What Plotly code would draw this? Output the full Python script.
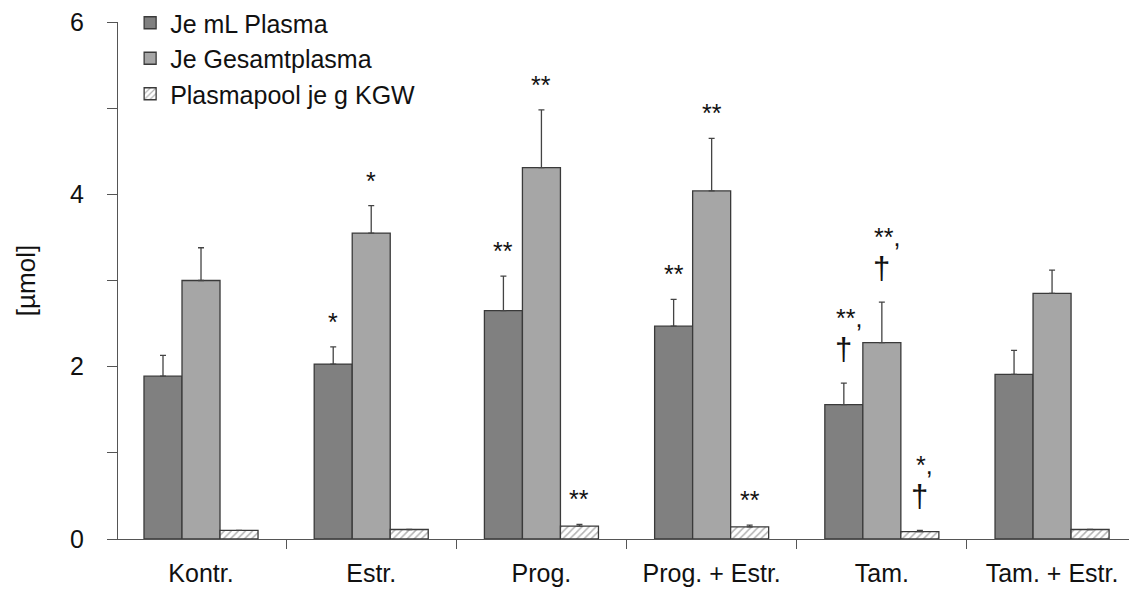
import plotly.graph_objects as go

categories = ["Kontr.", "Estr.", "Prog.", "Prog. + Estr.", "Tam.", "Tam. + Estr."]
series_names = ["Je mL Plasma", "Je Gesamtplasma", "Plasmapool je g KGW"]

per_ml = [1.89, 2.03, 2.65, 2.47, 1.56, 1.91]
per_ml_err = [0.24, 0.20, 0.40, 0.31, 0.25, 0.28]
total = [3.00, 3.55, 4.31, 4.04, 2.28, 2.85]
total_err = [0.38, 0.32, 0.67, 0.61, 0.47, 0.27]
pool = [0.10, 0.11, 0.15, 0.14, 0.085, 0.11]
pool_err = [0.0, 0.0, 0.02, 0.02, 0.015, 0.0]

# significance labels per category for each series (stars, dagger)
stars_ml = ["", "*", "**", "**", "**,", ""]
stars_total = ["", "*", "**", "**", "**,", ""]
stars_pool = ["", "", "**", "**", "*,", ""]
dagger_ml = [False, False, False, False, True, False]
dagger_total = [False, False, False, False, True, False]
dagger_pool = [False, False, False, False, True, False]

y_ticks = [0, 1, 2, 3, 4, 5, 6]
y_ticktext = ["0", "", "2", "", "4", "", "6"]

FONT = "Liberation Sans, Arial, sans-serif"
LINE = "#3a3a3a"

fig = go.Figure()

err_style = dict(type="data", symmetric=False, color="#444", thickness=1.3, width=3)

fig.add_trace(go.Bar(
    x=categories, y=per_ml, name=series_names[0],
    marker=dict(color="#808080", line=dict(color=LINE, width=1.3)),
    error_y=dict(array=per_ml_err, arrayminus=[0] * 6, **err_style),
))
fig.add_trace(go.Bar(
    x=categories, y=total, name=series_names[1],
    marker=dict(color="#a6a6a6", line=dict(color=LINE, width=1.3)),
    error_y=dict(array=total_err, arrayminus=[0] * 6, **err_style),
))
fig.add_trace(go.Bar(
    x=categories, y=pool, name=series_names[2],
    marker=dict(color="white", line=dict(color=LINE, width=1.3),
                pattern=dict(shape="/", fgcolor="#666", bgcolor="white", size=5, solidity=0.3)),
    error_y=dict(array=pool_err, arrayminus=[0] * 6, **err_style),
))

bargap = 0.33
bar_w = (1 - bargap) / 3
annotations = []
for k, (vals, errs, stars, daggers) in enumerate([
        (per_ml, per_ml_err, stars_ml, dagger_ml),
        (total, total_err, stars_total, dagger_total),
        (pool, pool_err, stars_pool, dagger_pool)]):
    for i, s in enumerate(stars):
        if not s:
            continue
        xpos = i + (k - 1) * bar_w
        ytop = vals[i] + errs[i]
        if daggers[i]:
            annotations.append(dict(
                x=xpos, y=ytop, xref="x", yref="y", text="†", showarrow=False,
                yanchor="middle", yshift=34,
                font=dict(family=FONT, size=31, color="#111"),
            ))
            annotations.append(dict(
                x=xpos, y=ytop, xref="x", yref="y", text=s, showarrow=False,
                yanchor="bottom", yshift=49, xshift=5,
                font=dict(family=FONT, size=25, color="#111"),
            ))
        else:
            annotations.append(dict(
                x=xpos, y=ytop, xref="x", yref="y", text=s, showarrow=False,
                yanchor="bottom", yshift=9,
                font=dict(family=FONT, size=25, color="#111"),
            ))

fig.update_layout(
    width=1129, height=590,
    margin=dict(l=118, r=0, t=21, b=51),
    paper_bgcolor="white", plot_bgcolor="white",
    barmode="group", bargap=bargap, bargroupgap=0,
    font=dict(family=FONT, size=20, color="#111"),
    showlegend=True,
    legend=dict(x=0.012, y=1.042, xanchor="left", yanchor="top",
                font=dict(family=FONT, size=25, color="#111"),
                bgcolor="rgba(0,0,0,0)", tracegroupgap=0),
    annotations=annotations,
    xaxis=dict(
        type="category", range=[-0.4877, 5.452],
        showline=True, linecolor="#555", linewidth=1.3,
        ticks="outside", tickson="boundaries", ticklen=9, tickcolor="#555", tickwidth=1.3,
        ticklabelstandoff=12,
        tickfont=dict(family=FONT, size=25, color="#111"),
        showgrid=False, zeroline=False,
    ),
    yaxis=dict(
        range=[0, 6], tickvals=y_ticks, ticktext=y_ticktext,
        showline=True, linecolor="#555", linewidth=1.3,
        ticks="outside", ticklen=10, tickcolor="#555", tickwidth=1.3,
        ticklabelstandoff=18,
        tickfont=dict(family=FONT, size=25, color="#111"),
        showgrid=False, zeroline=False,
        title=dict(text="[µmol]", font=dict(family=FONT, size=26, color="#111"), standoff=26),
    ),
)

fig.write_html("out.html")
